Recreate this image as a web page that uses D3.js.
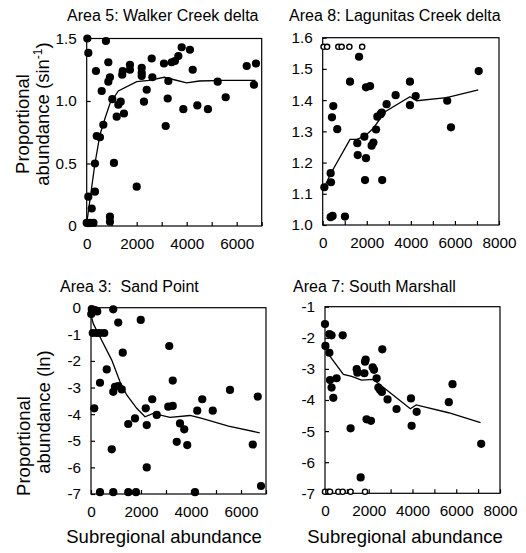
<!DOCTYPE html>
<html>
<head>
<meta charset="utf-8">
<script src="https://cdn.jsdelivr.net/npm/d3@7"></script>
<style>
  html, body { margin: 0; padding: 0; background: #fff; }
  svg { display: block; }
  text { font-family: "Liberation Sans", Arial, Helvetica, sans-serif; fill: #000; white-space: pre; }
</style>
</head>
<body>
<svg id="chart" width="526" height="553"></svg>
<script>
// ---------------- DATA ----------------
const titles = ["Area 5: Walker Creek delta", "Area 8: Lagunitas Creek delta", "Area 3:  Sand Point", "Area 7: South Marshall"];

// Area 5 (arcsin scale)
const area5Points = [
  [25,1.50],[65,1.385],[65,0.235],[0,0.025],[130,0.025],[270,0.025],[200,0.14],[330,0.275],[330,0.50],
  [400,0.72],[530,0.71],[370,1.24],[600,1.08],[665,0.81],[770,1.48],[865,1.31],[865,1.155],[930,1.19],
  [930,0.035],[930,0.075],[1025,1.015],[1090,0.505],[1200,0.875],[1265,0.97],[1360,0.995],[1440,1.24],
  [1420,1.21],[1490,0.90],[1730,1.29],[1730,1.25],[2000,0.315],[2200,1.265],[2200,1.225],[2200,1.20],
  [2290,0.995],[2400,1.09],[2600,1.34],[2625,1.19],[3090,1.30],[3160,0.80],[3265,1.16],[3240,1.02],
  [3400,1.31],[3530,1.32],[3665,1.36],[3800,1.43],[3865,0.935],[4130,1.41],[4240,1.25],[4425,0.965],
  [4850,0.935],[5240,1.155],[5560,1.03],[6400,1.28],[6690,1.13],[6770,1.30]
];
const area5Line = [[0,0.02],[330,0.5],[530,0.73],[730,0.86],[930,0.98],[1265,1.08],[2000,1.155],
  [2500,1.165],[3100,1.19],[3500,1.17],[4000,1.145],[4500,1.16],[5500,1.165],[6750,1.165]];

// Area 8 (arcsin scale)
const area8Points = [
  [75,1.121],[360,1.166],[375,1.137],[360,1.025],[450,1.029],[420,1.345],[480,1.381],[660,1.307],
  [1010,1.027],[1240,1.459],[1570,1.262],[1590,1.224],[1650,1.539],[1890,1.283],[1920,1.144],[1965,1.441],
  [1965,1.214],[2150,1.445],[2220,1.254],[2300,1.264],[2420,1.306],[2480,1.347],[2630,1.355],[2680,1.36],
  [2700,1.144],[2900,1.387],[3310,1.416],[3960,1.459],[3960,1.384],[4220,1.413],[5650,1.398],[5820,1.313],
  [7080,1.493]
];
const area8Open = [[40,1.5708],[200,1.5708],[710,1.5708],[860,1.5708],[1210,1.5708],[1790,1.5708]];
const area8Line = [[60,1.12],[405,1.17],[1240,1.274],[1540,1.274],[1920,1.285],[2300,1.31],[2830,1.363],
  [3960,1.411],[4265,1.398],[5625,1.408],[7060,1.433]];

// Area 3 (ln scale)
const area3Points = [
  [10,-0.24],[30,-0.05],[160,-0.09],[250,-0.14],[70,-0.95],[230,-0.95],[360,-0.95],[530,-0.95],
  [130,-3.78],[360,-2.82],[630,-2.32],[890,-0.06],[890,-3.16],[830,-5.32],[960,-2.97],[1090,-0.56],
  [1090,-2.95],[1270,-1.69],[1230,-3.07],[1490,-4.37],[1760,-4.16],[1990,-0.46],[2190,-3.78],[2230,-4.41],
  [2230,-6.0],[2450,-3.44],[2630,-4.03],[3090,-3.72],[3130,-1.44],[3270,-3.69],[3270,-2.74],[3430,-5.04],
  [3560,-4.35],[3730,-4.57],[3850,-5.16],[4250,-3.87],[4450,-3.44],[4870,-3.87],[5560,-3.09],[6470,-5.14],
  [6670,-3.34],[6800,-6.70],[360,-6.93],[890,-6.93],[1490,-6.93],[1800,-6.93],[4160,-6.93]
];
const area3Line = [[0,-0.27],[90,-0.6],[360,-1.1],[830,-1.97],[1160,-2.78],[1430,-3.28],[1830,-3.78],
  [2160,-4.1],[2490,-3.97],[3160,-4.12],[3960,-4.05],[4400,-4.15],[5500,-4.45],[6750,-4.7]];

// Area 7 (ln scale)
const area7Points = [
  [0,-1.56],[20,-2.26],[200,-1.88],[300,-1.92],[200,-2.48],[230,-3.36],[300,-3.6],[380,-3.93],[530,-3.30],
  [810,-1.92],[1170,-4.91],[1450,-3.01],[1480,-3.12],[1630,-6.49],[1800,-3.14],[1830,-2.77],[1860,-2.70],
  [1900,-4.62],[2100,-4.67],[2180,-2.95],[2240,-3.03],[2360,-3.30],[2440,-3.60],[2520,-3.68],[2600,-3.74],
  [2620,-2.37],[2860,-3.98],[3270,-4.29],[3930,-3.95],[3960,-4.83],[4190,-4.38],[5660,-4.07],[5830,-3.49],
  [7140,-5.41]
];
const area7Open = [[0,-6.95],[150,-6.95],[230,-6.95],[610,-6.95],[810,-6.95],[1170,-6.95],[1830,-6.95]];
const area7Line = [[0,-2.28],[230,-2.6],[840,-3.18],[1220,-3.24],[1670,-3.36],[2210,-3.34],[2820,-3.68],
  [3900,-4.28],[4170,-4.16],[5650,-4.41],[7110,-4.73]];

const area5YTicks = [0, 0.5, 1.0, 1.5];
const area8YTicks = [1.0, 1.1, 1.2, 1.3, 1.4, 1.5, 1.6];
const area3YTicks = [0, -1, -2, -3, -4, -5, -6, -7];
const area7YTicks = [-1, -2, -3, -4, -5, -6, -7];
const xTicks7000 = [0, 1000, 2000, 3000, 4000, 5000, 6000, 7000];
const xTicks8000 = [0, 1000, 2000, 3000, 4000, 5000, 6000, 7000, 8000];

// ---------------- LAYOUT ----------------
const panels = [
  { title: titles[0], tx: 67, ty: 21, pts: area5Points, open: [], line: area5Line,
    xd: [0, 7000], yd: [0, 1.5], xt: xTicks7000, yt: area5YTicks,
    yfmt: v => v === 0 ? "0" : d3.format(".1f")(v),
    box: { x0: 86.7, x1: 261.7, y0: 38.5, y1: 226 } },
  { title: titles[1], tx: 289, ty: 21, pts: area8Points, open: area8Open, line: area8Line,
    xd: [0, 8000], yd: [1.0, 1.6], xt: xTicks8000, yt: area8YTicks,
    yfmt: d3.format(".1f"),
    box: { x0: 322.7, x1: 499, y0: 37.7, y1: 225 } },
  { title: titles[2], tx: 60, ty: 292, pts: area3Points, open: [], line: area3Line,
    xd: [0, 7000], yd: [-7, 0], xt: xTicks7000, yt: area3YTicks,
    yfmt: v => String(v),
    box: { x0: 91, x1: 266, y0: 307.7, y1: 494 } },
  { title: titles[3], tx: 293, ty: 292, pts: area7Points, open: area7Open, line: area7Line,
    xd: [0, 8000], yd: [-7, -1], xt: xTicks8000, yt: area7YTicks,
    yfmt: v => String(v),
    box: { x0: 325, x1: 500, y0: 306.7, y1: 493.3 } }
];

const svg = d3.select("#chart");
svg.append("rect").attr("width", 526).attr("height", 553).attr("fill", "#fff");

panels.forEach(p => {
  const b = p.box;
  const x = d3.scaleLinear().domain(p.xd).range([b.x0, b.x1]);
  const y = d3.scaleLinear().domain(p.yd).range([b.y1, b.y0]);
  const g = svg.append("g");

  // frame
  g.append("rect").attr("x", b.x0).attr("y", b.y0)
    .attr("width", b.x1 - b.x0).attr("height", b.y1 - b.y0)
    .attr("fill", "none").attr("stroke", "#000").attr("stroke-width", 1.2);

  // x axis
  const xa = g.append("g").attr("transform", `translate(0,${b.y1})`)
    .call(d3.axisBottom(x).tickValues(p.xt).tickSizeInner(-4).tickSizeOuter(0).tickPadding(8)
      .tickFormat(v => (v % 2000 === 0) ? String(v) : ""));
  xa.select(".domain").remove();
  xa.selectAll(".tick line").attr("stroke", "#000").attr("stroke-width", 1.2);
  xa.selectAll(".tick text").attr("font-size", 15.3).attr("font-family", "Liberation Sans, Arial, sans-serif")
    .attr("fill", "#000").attr("dy", "0.95em");

  // y axis
  const ya = g.append("g").attr("transform", `translate(${b.x0},0)`)
    .call(d3.axisLeft(y).tickValues(p.yt).tickSizeInner(-4).tickSizeOuter(0).tickPadding(10)
      .tickFormat(p.yfmt));
  ya.select(".domain").remove();
  ya.selectAll(".tick line").attr("stroke", "#000").attr("stroke-width", 1.2);
  ya.selectAll(".tick text").attr("font-size", 15.3).attr("font-family", "Liberation Sans, Arial, sans-serif")
    .attr("fill", "#000");

  // trend line
  g.append("path").datum(p.line)
    .attr("d", d3.line().x(d => x(d[0])).y(d => y(d[1])))
    .attr("fill", "none").attr("stroke", "#000").attr("stroke-width", 1.3);

  // filled points
  g.selectAll("circle.f").data(p.pts).enter().append("circle")
    .attr("class", "f")
    .attr("cx", d => x(d[0])).attr("cy", d => y(d[1])).attr("r", 4.1)
    .attr("fill", "#000");

  // open points
  g.selectAll("circle.o").data(p.open).enter().append("circle")
    .attr("class", "o")
    .attr("cx", d => x(d[0])).attr("cy", d => y(d[1])).attr("r", 2.6)
    .attr("fill", "#fff").attr("stroke", "#000").attr("stroke-width", 1.4);

  // title
  svg.append("text").attr("x", p.tx).attr("y", p.ty).attr("font-size", 16)
    .attr("xml:space", "preserve").text(p.title);
});

// y-axis labels (rotated)
function vlabel(cx, cy, build) {
  const t = svg.append("text")
    .attr("transform", `translate(${cx},${cy}) rotate(-90)`)
    .attr("text-anchor", "middle").attr("font-size", 18.5);
  build(t);
}
vlabel(29, 124, t => t.text("Proportional"));
vlabel(49, 114, t => {
  t.append("tspan").text("abundance (sin");
  t.append("tspan").attr("font-size", 12).attr("dy", -7).text("-1");
  t.append("tspan").attr("dy", 7).text(")");
});
vlabel(30, 446, t => t.text("Proportional"));
vlabel(50, 412, t => t.text("abundance (ln)"));

// x-axis labels
svg.append("text").attr("x", 164).attr("y", 543).attr("text-anchor", "middle")
  .attr("font-size", 18.5).text("Subregional abundance");
svg.append("text").attr("x", 405).attr("y", 543).attr("text-anchor", "middle")
  .attr("font-size", 18.5).text("Subregional abundance");
</script>
</body>
</html>
